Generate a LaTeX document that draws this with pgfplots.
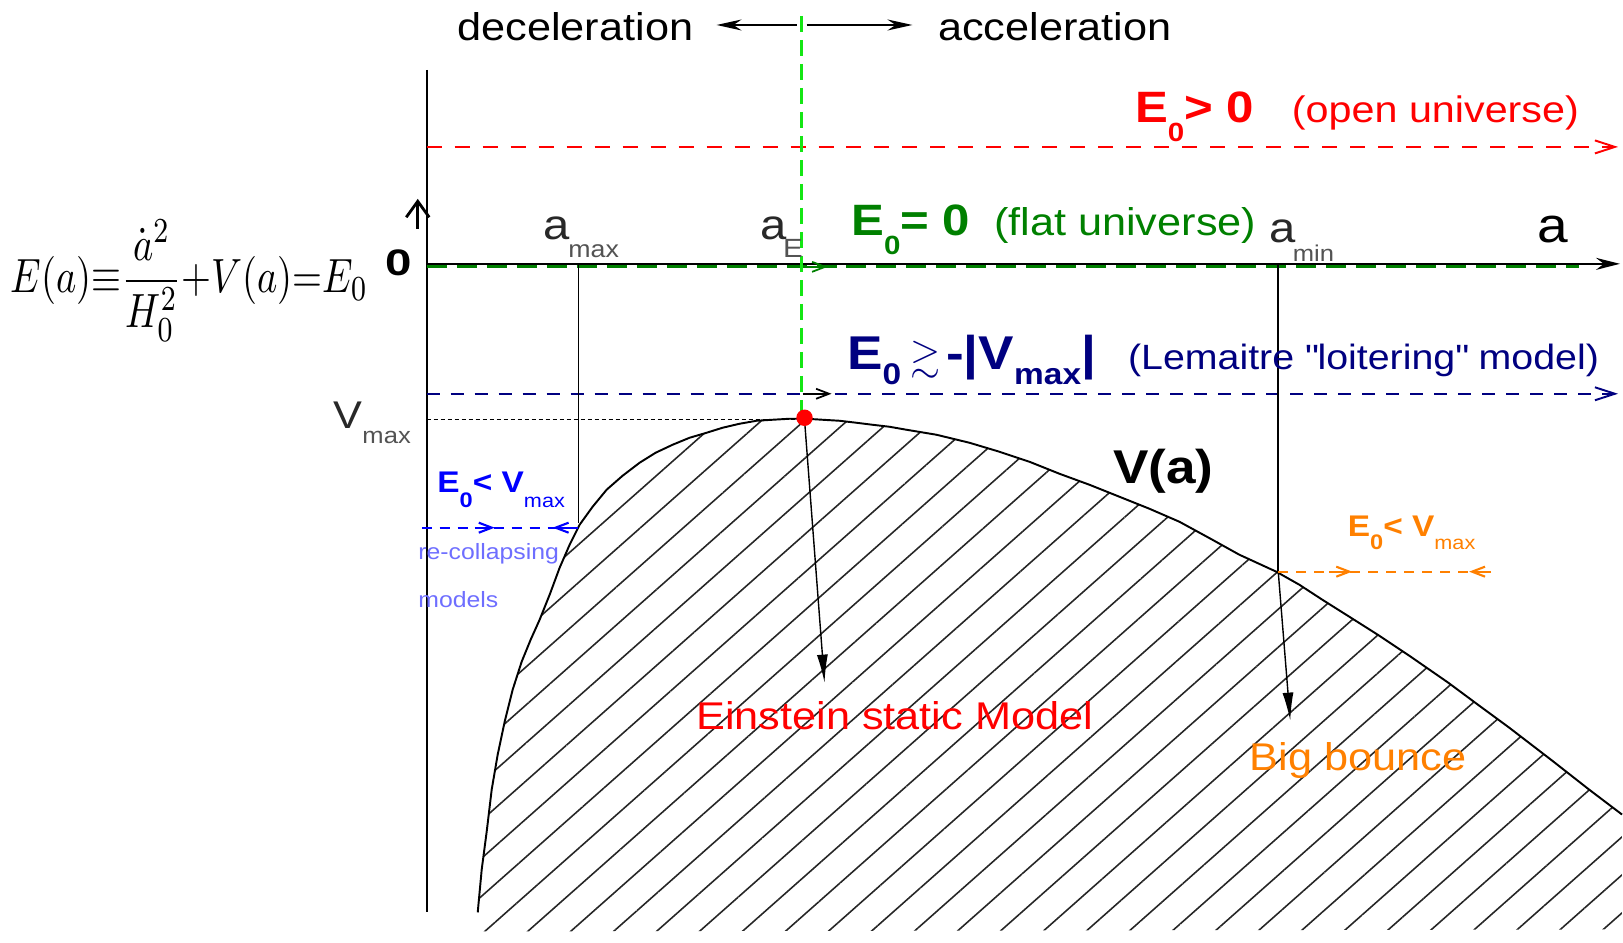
\documentclass[border=0pt]{standalone}
\usepackage{amssymb}
\usepackage{pgfplots}
\pgfplotsset{compat=1.18}
\usepackage{fontspec}
\setmainfont{Liberation Sans}[FakeStretch=1.12]
\usetikzlibrary{arrows.meta,patterns.meta}
\definecolor{dgreen}{RGB}{0,128,0}
\definecolor{bgreen}{RGB}{20,230,20}
\definecolor{navy}{RGB}{0,0,128}
\definecolor{lblue}{RGB}{110,110,255}
\definecolor{orng}{RGB}{255,128,0}
\definecolor{myred}{RGB}{255,0,0}
\definecolor{gtxt}{RGB}{40,40,40}
\newcommand{\lo}[3]{\raisebox{#1}{\fontsize{#2}{#2}\selectfont #3}}
\tikzset{lab/.style={inner sep=0pt, anchor=base west}}
\begin{document}
\begin{tikzpicture}
\begin{axis}[width=162.3mm, height=94.3mm, scale only axis,
  xmin=0, xmax=1623, ymin=0, ymax=943, y dir=reverse,
  hide axis, clip=false,
  every axis plot/.append style={mark=none}]

% invisible frame so that the picture keeps the full size
\addplot[draw=none] coordinates {(0,0) (1623,943)};

% hatched region under V(a)
\addplot[draw=none, pattern={Lines[angle=41.5, distance=8.1pt, line width=0.45pt]}, pattern color=black!85]
 coordinates {(478,913) (482,870) (487,832) (492,790) (498,755) (505,722) (513,690) (522,662) (531,640) (540,620) (550,595) (560,568) (570,545) (580,525) (593,507) (607,490) (623,476) (640,463) (656,453) (673,445) (690,438) (707,433) (723,428) (740,424) (757,421) (773,420) (790,419) (807,419) (823,420) (840,421) (857,423) (873,425) (890,427) (907,430) (937,435) (970,443) (1000,452) (1030,462) (1060,474) (1090,485) (1120,497) (1150,509) (1180,522) (1213,540) (1240,555) (1277,572) (1300,585) (1323,600) (1350,617) (1380,636) (1410,656) (1449,683) (1480,706) (1510,728) (1553,761) (1590,790) (1623,815) (1623,930) (474,932)} -- cycle;

% curve V(a)
\addplot[black, line width=0.55pt]
 coordinates {(478,913) (482,870) (487,832) (492,790) (498,755) (505,722) (513,690) (522,662) (531,640) (540,620) (550,595) (560,568) (570,545) (580,525) (593,507) (607,490) (623,476) (640,463) (656,453) (673,445) (690,438) (707,433) (723,428) (740,424) (757,421) (773,420) (790,419) (807,419) (823,420) (840,421) (857,423) (873,425) (890,427) (907,430) (937,435) (970,443) (1000,452) (1030,462) (1060,474) (1090,485) (1120,497) (1150,509) (1180,522) (1213,540) (1240,555) (1277,572) (1300,585) (1323,600) (1350,617) (1380,636) (1410,656) (1449,683) (1480,706) (1510,728) (1553,761) (1590,790) (1623,815)};

% axes
\addplot[black, line width=0.55pt] coordinates {(427,70) (427,913)};
\addplot[black, line width=0.55pt, -{Stealth[length=2.4mm,width=1.2mm]}] coordinates {(427,264) (1621,264)};
\addplot[dgreen, line width=0.8pt, dash pattern=on 2mm off 1mm] coordinates {(427,267) (1580,267)};
\addplot[dgreen, line width=0.5pt, -{Straight Barb[length=1.3mm,width=1mm]}] coordinates {(803,267) (828,267)};

% energy levels
\addplot[myred, line width=0.55pt, dash pattern=on 1.5mm off 1.3mm, -{Straight Barb[length=2mm,width=1.3mm]}] coordinates {(427,147) (1619,147)};
\addplot[navy, line width=0.55pt, dash pattern=on 1.3mm off 1.1mm, -{Straight Barb[length=2mm,width=1.3mm]}] coordinates {(427,394) (1619,394)};
\addplot[black, line width=0.5pt, -{Straight Barb[length=1.3mm,width=1mm]}] coordinates {(803,394) (832,394)};
\addplot[black, line width=0.35pt, dash pattern=on 0.4mm off 0.3mm] coordinates {(427,420) (800,420)};
\addplot[bgreen, line width=0.9pt, dash pattern=on 1.6mm off 0.8mm] coordinates {(802,16) (802,412)};

% verticals a_max, a_min
\addplot[black, line width=0.45pt] coordinates {(579,264) (579,523)};
\addplot[black, line width=0.45pt] coordinates {(1279,264) (1279,572)};

% pointer arrows
\addplot[black, line width=0.4pt, -{Latex[length=2.8mm,width=1.1mm]}] coordinates {(805,420) (825,683)};
\addplot[black, line width=0.4pt, -{Latex[length=2.8mm,width=1.1mm]}] coordinates {(1279,572) (1291,721)};

% deceleration / acceleration arrows
\addplot[black, line width=0.55pt, -{Stealth[length=2.5mm,width=1.1mm]}] coordinates {(797,25) (717,25)};
\addplot[black, line width=0.55pt, -{Stealth[length=2.5mm,width=1.1mm]}] coordinates {(807,25) (913,25)};

% small up arrow
\addplot[black, line width=0.8pt, -{Straight Barb[length=1.6mm,width=2.3mm]}] coordinates {(418,229) (418,199)};

% re-collapsing (blue)
\addplot[blue, line width=0.6pt, dash pattern=on 1mm off 0.8mm] coordinates {(422,528) (578,528)};
\addplot[blue, line width=0.6pt, -{Straight Barb[length=1.3mm,width=1mm]}] coordinates {(475,528) (495,528)};
\addplot[blue, line width=0.6pt, -{Straight Barb[length=1.3mm,width=1mm]}] coordinates {(578,528) (553,528)};

% big bounce (orange)
\addplot[orng, line width=0.6pt, dash pattern=on 1mm off 0.8mm] coordinates {(1279,572) (1492,572)};
\addplot[orng, line width=0.6pt, -{Straight Barb[length=1.3mm,width=1mm]}] coordinates {(1330,572) (1353,572)};
\addplot[orng, line width=0.6pt, -{Straight Barb[length=1.3mm,width=1mm]}] coordinates {(1492,572) (1470,572)};

% Einstein static point
\addplot[only marks, mark=*, mark size=0.75mm, myred, mark options={draw=myred, fill=myred}] coordinates {(805,418)};

% ---- texts ----
\node[lab, font=\fontsize{11}{13}\selectfont] at (axis cs:457,41) {deceleration};
\node[lab, font=\fontsize{11}{13}\selectfont] at (axis cs:938,41) {acceleration};

\node[lab, text=myred, font=\fontsize{12.5}{14}\selectfont\bfseries] at (axis cs:1135,123) {E\lo{-1.9mm}{7.5}{0}> 0};
\node[lab, text=myred, font=\fontsize{10.5}{13}\selectfont] at (axis cs:1292,123) {(open universe)};

\node[lab, text=dgreen, font=\fontsize{12.5}{14}\selectfont\bfseries] at (axis cs:851,236) {E\lo{-1.9mm}{7.5}{0}= 0};
\node[lab, text=dgreen, font=\fontsize{11}{13}\selectfont] at (axis cs:994,236) {(flat universe)};

\node[lab, text=navy, font=\fontsize{13.5}{15}\selectfont\bfseries] at (axis cs:847,370) {E\lo{-1.5mm}{8.5}{0}\hspace{0.9mm}{\fontsize{11}{11}\selectfont$\gtrsim$}\hspace{0.6mm}-|V\lo{-1.5mm}{8.5}{max}|};
\node[lab, text=navy, font=\fontsize{10}{12}\selectfont] at (axis cs:1128,370) {(Lemaitre \textquotedbl loitering\textquotedbl\ model)};

\node[lab, text=gtxt, font=\fontsize{12}{14}\selectfont] at (axis cs:543,240) {a};
\node[lab, text=gtxt!80, font=\fontsize{6.8}{8}\selectfont] at (axis cs:568,258) {max};
\node[lab, text=gtxt, font=\fontsize{12}{14}\selectfont] at (axis cs:760,240) {a};
\node[lab, text=gtxt!80, font=\fontsize{7.5}{8}\selectfont] at (axis cs:783,258) {E};
\node[lab, text=gtxt, font=\fontsize{12}{14}\selectfont] at (axis cs:1270,243) {a};
\node[lab, text=gtxt!80, font=\fontsize{6.5}{8}\selectfont] at (axis cs:1293,262) {min};
\node[lab, font=\fontsize{14}{16}\selectfont] at (axis cs:1538,243) {a};

\node[lab, font=\fontsize{10.5}{11}\selectfont\bfseries] at (axis cs:385,276) {\scalebox{1.15}[1]{0}};

\node[lab, text=gtxt, font=\fontsize{11}{13}\selectfont] at (axis cs:333,429) {V};
\node[lab, text=gtxt!80, font=\fontsize{6.5}{8}\selectfont] at (axis cs:362,444) {max};

\node[lab, text=blue, font=\fontsize{8.5}{10}\selectfont\bfseries] at (axis cs:437,493) {E\lo{-1.5mm}{6}{0}< V\lo{-1.5mm}{5.5}{\mdseries max}};
\node[lab, text=lblue, font=\fontsize{6.3}{8}\selectfont] at (axis cs:418,560) {re-collapsing};
\node[lab, text=lblue, font=\fontsize{6.3}{8}\selectfont] at (axis cs:418,608) {models};

\node[lab, text=orng, font=\fontsize{8.5}{10}\selectfont\bfseries] at (axis cs:1348,537) {E\lo{-1.3mm}{6}{0}< V\lo{-1.3mm}{5.5}{\mdseries max}};

\node[lab, font=\fontsize{13.5}{15}\selectfont\bfseries] at (axis cs:1113,484) {V(a)};

\node[lab, text=myred, font=\fontsize{11}{13}\selectfont] at (axis cs:696,730) {Einstein static Model};
\node[lab, text=orng, font=\fontsize{11}{13}\selectfont] at (axis cs:1250,771) {Big bounce};

\node[lab, font=\fontsize{11.4}{14}\selectfont] at (axis cs:10,293) {\scalebox{1}[1.25]{$\displaystyle E(a){\equiv}\frac{\dot{a}^2}{H_0^2}{+}V(a){=}E_0$}};

\end{axis}
\end{tikzpicture}
\end{document}
